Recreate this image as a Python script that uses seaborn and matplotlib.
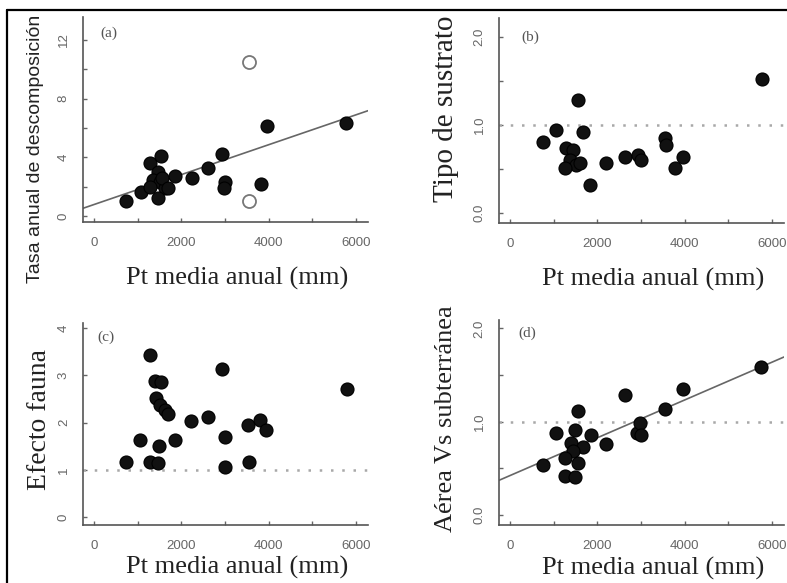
import numpy as np
import matplotlib
matplotlib.use("Agg")
import matplotlib.pyplot as plt
from matplotlib.ticker import MultipleLocator, FormatStrFormatter
from matplotlib.lines import Line2D
import seaborn as sns

# (a) tasa anual de descomposicion
xa = [740, 1085, 1276, 1544, 1466, 1352, 1505, 1620, 1466, 1280, 1560, 1695, 1847, 2252, 2611,
      2939, 2992, 2970, 3817, 3962, 5756]
ya = [1.05, 1.65, 3.6, 4.1, 3.0, 2.45, 2.35, 1.9, 1.2, 2.0, 2.6, 1.9, 2.7, 2.6, 3.25,
      4.2, 2.35, 1.9, 2.2, 6.1, 6.35]
xa_out = [3542, 3550]
ya_out = [10.5, 1.0]
fit_a = (0.78, 0.00102)

# (b) tipo de sustrato
xb = [759, 1065, 1557, 1672, 1293, 1444, 1368, 1521, 1254, 1596, 1824, 2205, 2624, 2928, 3004,
      3551, 3574, 3787, 3970, 5757]
yb = [0.81, 0.94, 1.28, 0.92, 0.74, 0.72, 0.60, 0.55, 0.51, 0.57, 0.32, 0.57, 0.64, 0.66, 0.60,
      0.85, 0.77, 0.51, 0.64, 1.52]

# (c) efecto fauna
xc = [742, 1047, 1276, 1276, 1391, 1544, 1430, 1505, 1620, 1696, 1490, 1849, 1466, 2230, 2611,
      2939, 2992, 2992, 3527, 3550, 3809, 3947, 5779]
yc = [1.17, 1.63, 3.43, 1.17, 2.88, 2.86, 2.51, 2.37, 2.27, 2.18, 1.5, 1.63, 1.14, 2.04, 2.11,
      3.14, 1.70, 1.05, 1.94, 1.16, 2.06, 1.84, 2.71]

# (d) aerea vs subterranea
xd = [759, 1065, 1557, 1482, 1863, 1407, 1672, 1444, 2205, 1254, 1557, 1254, 1482, 2624, 2905,
      2981, 3004, 3551, 3954, 5741]
yd = [0.53, 0.88, 1.11, 0.91, 0.86, 0.77, 0.73, 0.68, 0.76, 0.61, 0.56, 0.42, 0.41, 1.28, 0.88,
      0.99, 0.86, 1.13, 1.35, 1.59]
fit_d = (0.42, 0.000203)

xlabel = "Pt media anual (mm)"
ylabels = ["Tasa anual de descomposición", "Tipo de sustrato", "Efecto fauna", "Aérea Vs subterránea"]
letters = ["(a)", "(b)", "(c)", "(d)"]

sns.set_theme(style="white")
plt.rcParams["font.family"] = ["Liberation Sans", "DejaVu Sans"]
serif = ["Liberation Serif", "DejaVu Serif"]

fig = plt.figure(figsize=(7.87, 5.83), dpi=100)
axa = fig.add_axes([0.1055, 0.6192, 0.3621, 0.3516])
axb = fig.add_axes([0.634, 0.6175, 0.3621, 0.3516])
axc = fig.add_axes([0.1055, 0.0995, 0.3621, 0.3465])
axd = fig.add_axes([0.634, 0.0995, 0.3621, 0.3516])

dot_kw = dict(color="#111111", edgecolor="#000000", linewidth=0.8, s=88, legend=False, zorder=3)
sns.scatterplot(x=xa, y=ya, ax=axa, **dot_kw)
sns.scatterplot(x=xa_out, y=ya_out, ax=axa, color="white", edgecolor="#777777", linewidth=1.3,
                s=88, legend=False, zorder=3)
sns.scatterplot(x=xb, y=yb, ax=axb, **dot_kw)
sns.scatterplot(x=xc, y=yc, ax=axc, **dot_kw)
sns.scatterplot(x=xd, y=yd, ax=axd, **dot_kw)

axa.axline((0, fit_a[0]), slope=fit_a[1], color="#666666", lw=1.2, zorder=2)
axd.axline((0, fit_d[0]), slope=fit_d[1], color="#666666", lw=1.2, zorder=2)
for ax in (axb, axc, axd):
    ax.axhline(1.0, color="#a8a8a8", ls=(0, (1, 3.5)), lw=1.8, zorder=1)

setup = [
    (axa, (-0.41, 13.56), 4, 2, "%d", (-0.168, 0.356), (0.06, 0.92), 14),
    (axb, (-0.11, 2.21), 1.0, 0.5, "%.1f", (-0.186, 0.556), (0.08, 0.907), 21),
    (axc, (-0.17, 4.11), 1, 1, "%d", (-0.154, 0.52), (0.05, 0.93), 20),
    (axd, (-0.11, 2.09), 1.0, 0.5, "%.1f", (-0.186, 0.52), (0.067, 0.937), 19),
]
xlab_y = [-0.273, -0.273, -0.21, -0.21]

for i, (ax, ylim, ymaj, ymin, yfmt, ylabpos, letpos, ysize) in enumerate(setup):
    ax.set_xlim(-250, 6270)
    ax.set_ylim(*ylim)
    sns.despine(ax=ax)
    for side in ("left", "bottom"):
        ax.spines[side].set_color("#555555")
        ax.spines[side].set_linewidth(1.2)
    ax.xaxis.set_major_locator(MultipleLocator(2000))
    ax.xaxis.set_minor_locator(MultipleLocator(1000))
    ax.yaxis.set_major_locator(MultipleLocator(ymaj))
    ax.yaxis.set_minor_locator(MultipleLocator(ymin))
    ax.yaxis.set_major_formatter(FormatStrFormatter(yfmt))
    ax.tick_params(which="both", direction="in", length=3, width=1, color="#666666",
                   labelcolor="#666666", labelsize=9.5, left=True, bottom=True)
    ax.tick_params(axis="x", which="major", pad=10.5)
    ax.tick_params(axis="y", which="major", pad=9.5)
    for lab in ax.get_yticklabels():
        lab.set_rotation(90)
        lab.set_va("center")

    ax.set_xlabel(xlabel, family=serif, fontsize=19, color="#222222")
    ax.xaxis.set_label_coords(0.54, xlab_y[i])
    ax.xaxis.label.set_va("center")
    if i == 0:
        ax.set_ylabel(ylabels[i], fontsize=ysize, color="#222222")
    else:
        ax.set_ylabel(ylabels[i], family=serif, fontsize=ysize, color="#222222")
    ax.yaxis.set_label_coords(*ylabpos)
    ax.yaxis.label.set_va("center")
    ax.text(letpos[0], letpos[1], letters[i], transform=ax.transAxes, ha="left", va="center",
            family=serif, fontsize=11, color="#555555")

# frame of the scanned figure (top and left edges)
fig.add_artist(Line2D([0.0089, 1.0], [0.983, 0.983], color="black", lw=1.6, transform=fig.transFigure))
fig.add_artist(Line2D([0.0089, 0.0089], [0.0, 0.983], color="black", lw=1.6, transform=fig.transFigure))

fig.savefig("out.png", dpi=100)
